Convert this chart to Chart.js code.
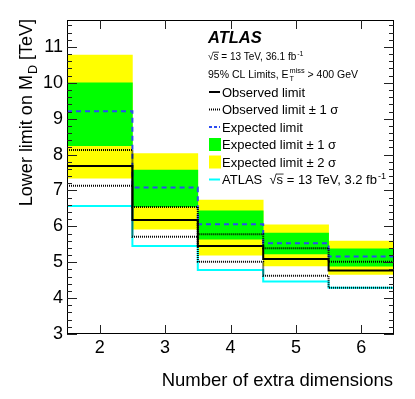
<!DOCTYPE html>
<html>
<head>
<meta charset="utf-8">
<script src="https://cdn.jsdelivr.net/npm/chart.js@4.4.1/dist/chart.umd.min.js"></script>
<style>
  html, body { margin: 0; padding: 0; background: #fff; }
  #limitChart { display: block; }
</style>
</head>
<body>
<canvas id="limitChart" width="415" height="399"></canvas>
<script>
// one bin per number of extra dimensions
const dimensions = [2, 3, 4, 5, 6];
const xTickLabels = ['2', '3', '4', '5', '6'];
const yTickValues = [3, 4, 5, 6, 7, 8, 9, 10, 11];

// lower limits on M_D [TeV]
const observed   = [7.68, 6.18, 5.45, 5.09, 4.77];
const obsUp      = [8.13, 6.54, 5.78, 5.39, 5.01];
const obsDown    = [7.13, 5.71, 5.01, 4.62, 4.29];
const expected   = [9.21, 7.08, 6.06, 5.53, 5.16];
const exp1Up     = [10.00, 7.57, 6.43, 5.81, 5.37];
const exp1Down   = [8.25, 6.55, 5.64, 5.23, 4.89];
const exp2Up     = [10.77, 8.03, 6.73, 6.04, 5.59];
const exp2Down   = [7.34, 5.92, 5.20, 4.90, 4.66];
const atlas2015  = [6.57, 5.45, 4.78, 4.46, 4.29];

const FONT = "'Liberation Sans', Arial, Helvetica, sans-serif";

// bin edges -> stepped line points
const edges = dimensions.map(d => d - 0.5).concat([dimensions[dimensions.length - 1] + 0.5]);
function stepLine(values) {
    return edges.map((x, i) => ({ x: x, y: values[Math.min(i, values.length - 1)] }));
}
function band(lo, hi) {
    return dimensions.map((d, i) => ({ x: d, y: [lo[i], hi[i]] }));
}

// small rich text helper: plain, sub, sup, sup+sub stack, sqrt
function rich(ctx, parts, x, y, size, weight, draw) {
    let cx = x;
    for (const p of parts) {
        if (typeof p === 'string') {
            ctx.font = `${weight} ${size}px ${FONT}`;
            if (draw) ctx.fillText(p, cx, y);
            cx += ctx.measureText(p).width;
        } else if (p.sub || p.sup) {
            const s = size * 0.7;
            ctx.font = `${weight} ${s}px ${FONT}`;
            const t = p.sub || p.sup;
            const dy = p.sub ? size * 0.3 : -size * 0.4;
            if (draw) ctx.fillText(t, cx + 1, y + dy);
            cx += ctx.measureText(t).width + 1;
        } else if (p.stack) {
            const s = size * 0.7;
            ctx.font = `${weight} ${s}px ${FONT}`;
            const w1 = ctx.measureText(p.stack[0]).width;
            const w2 = ctx.measureText(p.stack[1]).width;
            if (draw) {
                ctx.fillText(p.stack[0], cx + 1, y - size * 0.45);
                ctx.fillText(p.stack[1], cx + 1, y + size * 0.35);
            }
            cx += Math.max(w1, w2) + 1;
        } else if (p.sqrt) {
            ctx.font = `${weight} ${size}px ${FONT}`;
            const wr = ctx.measureText('\u221A').width;
            const ws = ctx.measureText(p.sqrt).width;
            if (draw) {
                ctx.fillText('\u221A', cx, y);
                ctx.fillText(p.sqrt, cx + wr, y);
                ctx.save();
                ctx.lineWidth = 0.8;
                ctx.strokeStyle = ctx.fillStyle;
                ctx.beginPath();
                ctx.moveTo(cx + wr - 0.5, y - size * 0.78);
                ctx.lineTo(cx + wr + ws + 0.5, y - size * 0.78);
                ctx.stroke();
                ctx.restore();
            }
            cx += wr + ws;
        }
    }
    return cx - x;
}

const decorations = {
    id: 'decorations',
    afterDatasetsDraw(chart) {
        const ctx = chart.ctx;
        const area = chart.chartArea;
        const xs = chart.scales.x, ys = chart.scales.y;
        ctx.save();

        // frame
        ctx.strokeStyle = '#000';
        ctx.lineWidth = 1;
        ctx.strokeRect(area.left + 0.5, area.top + 0.5, area.right - area.left - 1, area.bottom - area.top - 1);

        // ticks on all four sides, pointing inward
        ctx.strokeStyle = '#222';
        ctx.beginPath();
        dimensions.forEach(v => {
            const px = Math.round(xs.getPixelForValue(v)) + 0.5;
            ctx.moveTo(px, area.bottom); ctx.lineTo(px, area.bottom - 9);
            ctx.moveTo(px, area.top); ctx.lineTo(px, area.top + 9);
        });
        for (let k = 0; k * 0.2 + ys.min <= ys.max + 1e-9; k++) {
            const v = ys.min + k * 0.2;
            const py = Math.round(ys.getPixelForValue(v)) + 0.5;
            const len = k % 5 === 0 ? 10 : 5;
            ctx.moveTo(area.left, py); ctx.lineTo(area.left + len, py);
            ctx.moveTo(area.right, py); ctx.lineTo(area.right - len, py);
        }
        ctx.stroke();

        // axis titles
        ctx.fillStyle = '#000';
        ctx.textBaseline = 'alphabetic';
        ctx.textAlign = 'left';
        const xt = ['Number of extra dimensions'];
        const wx = rich(ctx, xt, 0, 0, 18.5, 'normal', false);
        rich(ctx, xt, area.right - 1 - wx, 386, 18.5, 'normal', true);

        const yt = ['Lower limit on M', { sub: 'D' }, ' [TeV]'];
        const wy = rich(ctx, yt, 0, 0, 18, 'normal', false);
        ctx.save();
        ctx.translate(32, area.top - 1);
        ctx.rotate(-Math.PI / 2);
        rich(ctx, yt, -wy, 0, 18, 'normal', true);
        ctx.restore();

        // ATLAS label and legend
        const lx = 208;
        ctx.font = `italic bold 16.5px ${FONT}`;
        ctx.fillText('ATLAS', lx, 43);
        rich(ctx, [{ sqrt: 's' }, ' = 13 TeV, 36.1 fb', { sup: '-1' }], lx, 60, 10, 'normal', true);
        rich(ctx, ['95% CL Limits, E', { stack: ['miss', 'T'] }, ' > 400 GeV'], lx, 77.5, 10.5, 'normal', true);

        const rows = [92, 109.5, 127, 144.5, 162, 179.5];
        const sx0 = 209, sx1 = 220, tx = 222;
        const sym = [
            { line: '#000', dash: [], w: 2 },
            { line: '#000', dash: [1, 1], w: 2 },
            { line: '#2b4cf0', dash: [3, 2], w: 2 },
            { box: '#00ff00' },
            { box: '#ffff00' },
            { line: '#00ffff', dash: [], w: 2 }
        ];
        const labels = [
            ['Observed limit'],
            ['Observed limit \u00B1 1 \u03C3'],
            ['Expected limit'],
            ['Expected limit \u00B1 1 \u03C3'],
            ['Expected limit \u00B1 2 \u03C3'],
            ['ATLAS  ', { sqrt: 's' }, ' = 13 TeV, 3.2 fb', { sup: '-1' }]
        ];
        rows.forEach((ry, i) => {
            const s = sym[i];
            if (s.box) {
                ctx.fillStyle = s.box;
                ctx.fillRect(sx0, ry - 6.5, sx1 - sx0 + 1, 13);
            } else {
                ctx.save();
                ctx.strokeStyle = s.line;
                ctx.lineWidth = s.w;
                ctx.setLineDash(s.dash);
                ctx.beginPath();
                ctx.moveTo(sx0, ry); ctx.lineTo(sx1, ry);
                ctx.stroke();
                ctx.restore();
            }
            ctx.fillStyle = '#000';
            rich(ctx, labels[i], tx, ry + 4.7, 13, 'normal', true);
        });
        ctx.restore();
    }
};

const lineStyle = { pointRadius: 0, stepped: true, fill: false, order: 0, borderWidth: 2 };
const barStyle = { barPercentage: 1, categoryPercentage: 1, grouped: false, borderWidth: 0 };

new Chart(document.getElementById('limitChart'), {
    type: 'bar',
    data: {
        datasets: [
            { type: 'line', label: 'Observed limit', data: stepLine(observed), borderColor: '#000', ...lineStyle },
            { type: 'line', label: 'Observed +1 sigma', data: stepLine(obsUp), borderColor: '#000', borderDash: [1, 1], ...lineStyle },
            { type: 'line', label: 'Observed -1 sigma', data: stepLine(obsDown), borderColor: '#000', borderDash: [1, 1], ...lineStyle },
            { type: 'line', label: 'Expected limit', data: stepLine(expected), borderColor: '#2b4cf0', borderDash: [5, 4], ...lineStyle },
            { type: 'line', label: 'ATLAS 3.2 fb-1', data: stepLine(atlas2015), borderColor: '#00ffff', ...lineStyle },
            { label: 'Expected limit +-1 sigma', data: band(exp1Down, exp1Up), backgroundColor: '#00ff00', order: 1, ...barStyle },
            { label: 'Expected limit +-2 sigma', data: band(exp2Down, exp2Up), backgroundColor: '#ffff00', order: 2, ...barStyle }
        ]
    },
    options: {
        responsive: false,
        animation: false,
        devicePixelRatio: 1,
        layout: { padding: { top: 20, right: 21, left: 0, bottom: 0 } },
        plugins: { legend: { display: false }, tooltip: { enabled: false } },
        scales: {
            x: {
                type: 'linear', min: 1.5, max: 6.5, offset: false,
                grid: { display: false, drawTicks: false },
                border: { display: false },
                afterBuildTicks: s => { s.ticks = dimensions.map(v => ({ value: v })); },
                afterFit: s => { s.height = 65; },
                ticks: {
                    callback: (v, i) => xTickLabels[i],
                    font: { family: FONT, size: 18 }, color: '#000',
                    padding: 3, maxRotation: 0, autoSkip: false
                }
            },
            y: {
                type: 'linear', min: 3, max: 11.75,
                grid: { display: false, drawTicks: false },
                border: { display: false },
                afterBuildTicks: s => { s.ticks = yTickValues.map(v => ({ value: v })); },
                afterFit: s => { s.width = 67; },
                ticks: {
                    callback: v => String(v),
                    font: { family: FONT, size: 18 }, color: '#000',
                    padding: 4, autoSkip: false
                }
            }
        }
    },
    plugins: [decorations]
});
</script>
</body>
</html>
